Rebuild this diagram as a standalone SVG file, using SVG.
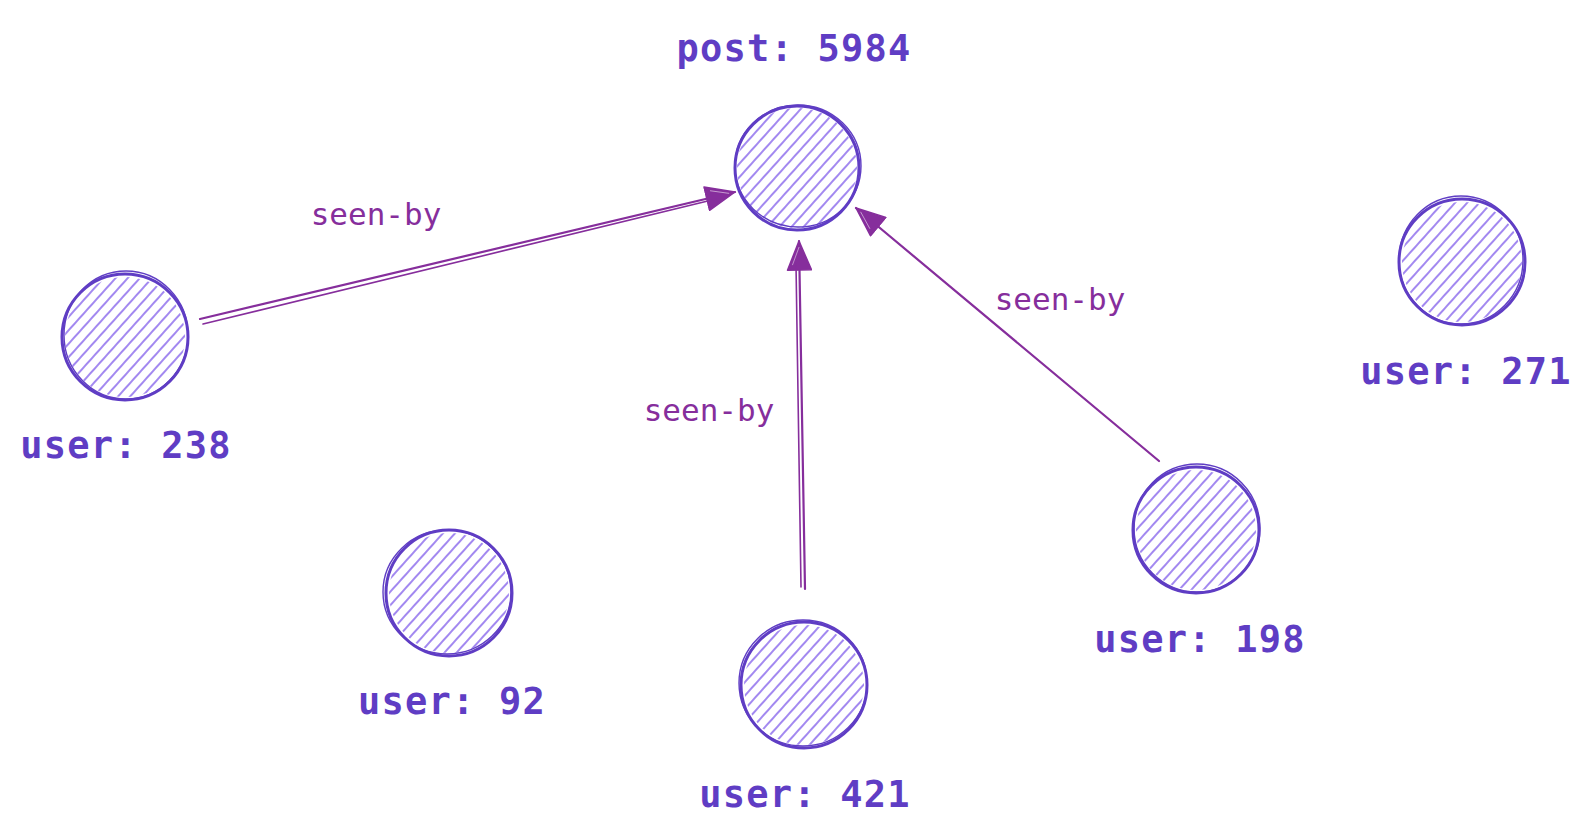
<svg xmlns="http://www.w3.org/2000/svg" width="1591" height="834" viewBox="0 0 1591 834">
<style>
.bg{fill:#ffffff}
.node-fill{fill:url(#hatch);stroke:none}
.node-stroke{fill:none;stroke:#5f3dc4;stroke-width:3}
.node-stroke2{fill:none;stroke:#5f3dc4;stroke-width:1.4}
.node-label{font-family:"DejaVu Sans Mono","Liberation Mono",monospace;font-weight:bold;font-size:37px;letter-spacing:1.2px;fill:#5f3dc4;text-anchor:middle}
.edge{fill:none;stroke:#862e9c;stroke-width:2.2;stroke-linecap:round}
.edge2{fill:none;stroke:#862e9c;stroke-width:1.6;stroke-linecap:round}
.edge-label{font-family:"DejaVu Sans Mono","Liberation Mono",monospace;font-size:31px;fill:#862e9c;text-anchor:middle}
</style>
<defs>
<pattern id="hatch" patternUnits="userSpaceOnUse" width="9" height="9" patternTransform="rotate(42)">
<line x1="2" y1="0" x2="2" y2="9" stroke="#7048e8" stroke-width="1.3"/>
</pattern>
<marker id="arrow" markerUnits="userSpaceOnUse" viewBox="0 0 32 26" refX="30" refY="13" markerWidth="32" markerHeight="26" orient="auto">
<path d="M1,1 L30,13 L1,25 Z" fill="#862e9c" stroke="#862e9c" stroke-width="1.5" stroke-linejoin="round"/>
<path d="M6,6 L24,13" stroke="#ffffff" stroke-width="0.8" opacity="0.6"/>
</marker>
</defs>
<rect class="bg" x="0" y="0" width="1591" height="834"/>

<g id="connectors">
<g id="edge-238-post">
<line class="edge" x1="200" y1="319" x2="735" y2="192" marker-end="url(#arrow)"/>
<line class="edge2" x1="203" y1="324" x2="716" y2="199"/>
<text class="edge-label" x="376" y="225">seen-by</text>
</g>
<g id="edge-421-post">
<line class="edge" x1="805" y1="589" x2="799" y2="241" marker-end="url(#arrow)"/>
<line class="edge2" x1="801" y1="587" x2="796" y2="264"/>
<text class="edge-label" x="709" y="421">seen-by</text>
</g>
<g id="edge-198-post">
<line class="edge" x1="1159" y1="461" x2="856" y2="208" marker-end="url(#arrow)"/>
<text class="edge-label" x="1060" y="310">seen-by</text>
</g>
</g>

<g id="node-post">
<circle class="node-fill" cx="797" cy="168" r="60"/>
<circle class="node-stroke" cx="797" cy="168" r="62"/>
<ellipse class="node-stroke2" cx="798" cy="166" rx="63" ry="61"/>
<text class="node-label" x="794" y="61">post: 5984</text>
</g>

<g id="node-user-238">
<circle class="node-fill" cx="125" cy="337" r="60"/>
<circle class="node-stroke" cx="125" cy="337" r="63"/>
<ellipse class="node-stroke2" cx="126" cy="335" rx="62" ry="64"/>
<text class="node-label" x="126" y="458">user: 238</text>
</g>

<g id="node-user-92">
<circle class="node-fill" cx="449" cy="593" r="60"/>
<circle class="node-stroke" cx="449" cy="593" r="63"/>
<ellipse class="node-stroke2" cx="447" cy="592" rx="64" ry="62"/>
<text class="node-label" x="452" y="714">user: 92</text>
</g>

<g id="node-user-421">
<circle class="node-fill" cx="804" cy="685" r="60"/>
<circle class="node-stroke" cx="804" cy="685" r="63"/>
<ellipse class="node-stroke2" cx="803" cy="683" rx="64" ry="63"/>
<text class="node-label" x="805" y="807">user: 421</text>
</g>

<g id="node-user-198">
<circle class="node-fill" cx="1196" cy="530" r="60"/>
<circle class="node-stroke" cx="1196" cy="530" r="63"/>
<ellipse class="node-stroke2" cx="1197" cy="528" rx="63" ry="64"/>
<text class="node-label" x="1200" y="652">user: 198</text>
</g>

<g id="node-user-271">
<circle class="node-fill" cx="1462" cy="262" r="60"/>
<circle class="node-stroke" cx="1462" cy="262" r="63"/>
<ellipse class="node-stroke2" cx="1461" cy="260" rx="62" ry="64"/>
<text class="node-label" x="1466" y="384">user: 271</text>
</g>
</svg>
